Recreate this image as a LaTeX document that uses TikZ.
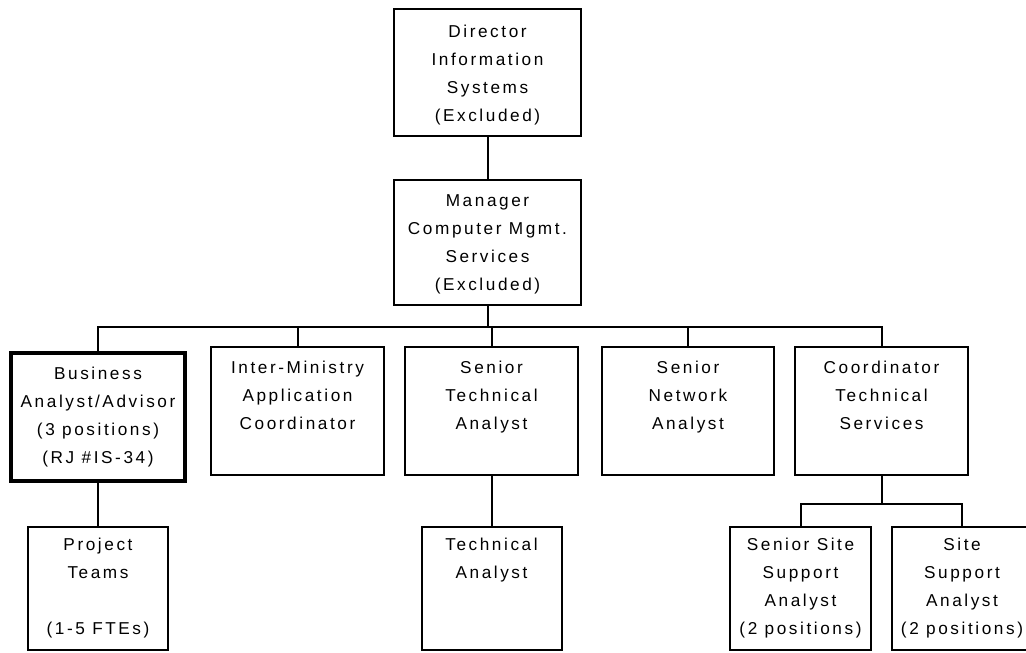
\documentclass[tikz,border=0pt]{standalone}
\usepackage{fontspec}
\setmainfont{Liberation Sans}[LetterSpace=15]
\newcommand\bxt[4]{\parbox[c][#2][t]{#1}{\centering\fontsize{8.6pt}{14pt}\selectfont\rule{0pt}{#3}#4\par}}
\tikzset{
  box/.style={draw, line width=1pt, inner sep=0pt, rectangle},
  thickbox/.style={box, line width=2pt},
  conn/.style={line width=1pt}
}
\begin{document}
\begin{tikzpicture}[x=0.5pt,y=-0.5pt]
\useasboundingbox (0,0) rectangle (1026,652);
\clip (0,0) rectangle (1026,652);
\node[box] (dir) at (487.5,72.5) {\bxt{93.5pt}{63.5pt}{14.2pt}{Director\\Information\\Systems\\(Excluded)}};
\node[box] (mgr) at (487.5,242.5) {\bxt{93.5pt}{62.5pt}{13.2pt}{Manager\\Computer Mgmt.\\Services\\(Excluded)}};
\node[thickbox] (bus) at (98,417) {\bxt{87pt}{64pt}{13pt}{Business\\Analyst/Advisor\\(3 positions)\\(RJ \#IS-34)}};
\node[box] (itm) at (297.5,411) {\bxt{86.5pt}{64pt}{13.2pt}{Inter-Ministry\\Application\\Coordinator}};
\node[box] (sta) at (491.5,411) {\bxt{86.5pt}{64pt}{13.2pt}{Senior\\Technical\\Analyst}};
\node[box] (sna) at (688,411) {\bxt{86pt}{64pt}{13.2pt}{Senior\\Network\\Analyst}};
\node[box] (coo) at (881.5,411) {\bxt{86.5pt}{64pt}{13.2pt}{Coordinator\\Technical\\Services}};
\node[box] (prj) at (98,588.5) {\bxt{70pt}{61.5pt}{11.7pt}{Project\\Teams\\[14pt](1-5 FTEs)}};
\node[box] (ta) at (491.5,588.5) {\bxt{70pt}{61.5pt}{11.7pt}{Technical\\Analyst}};
\node[box] (ssa) at (800.5,588.5) {\bxt{70.5pt}{61.5pt}{11.7pt}{Senior Site\\Support\\Analyst\\(2 positions)}};
\node[box] (sa) at (962,588.5) {\bxt{70pt}{61.5pt}{11.7pt}{Site\\Support\\Analyst\\(2 positions)}};
\coordinate (j1) at (487.5,327);
\coordinate (j2) at (881.5,504);
\draw[conn] (dir.south) -- (mgr.north);
\draw[conn] (mgr.south) -- (j1);
\draw[conn] (bus.north) |- (j1) -| (coo.north);
\draw[conn] (itm.north) -- (itm.north |- j1);
\draw[conn] (sta.north) -- (sta.north |- j1);
\draw[conn] (sna.north) -- (sna.north |- j1);
\draw[conn] (bus.south) -- (prj.north);
\draw[conn] (sta.south) -- (ta.north);
\draw[conn] (coo.south) -- (j2);
\draw[conn] (ssa.north) |- (j2) -| (sa.north);
\end{tikzpicture}
\end{document}
